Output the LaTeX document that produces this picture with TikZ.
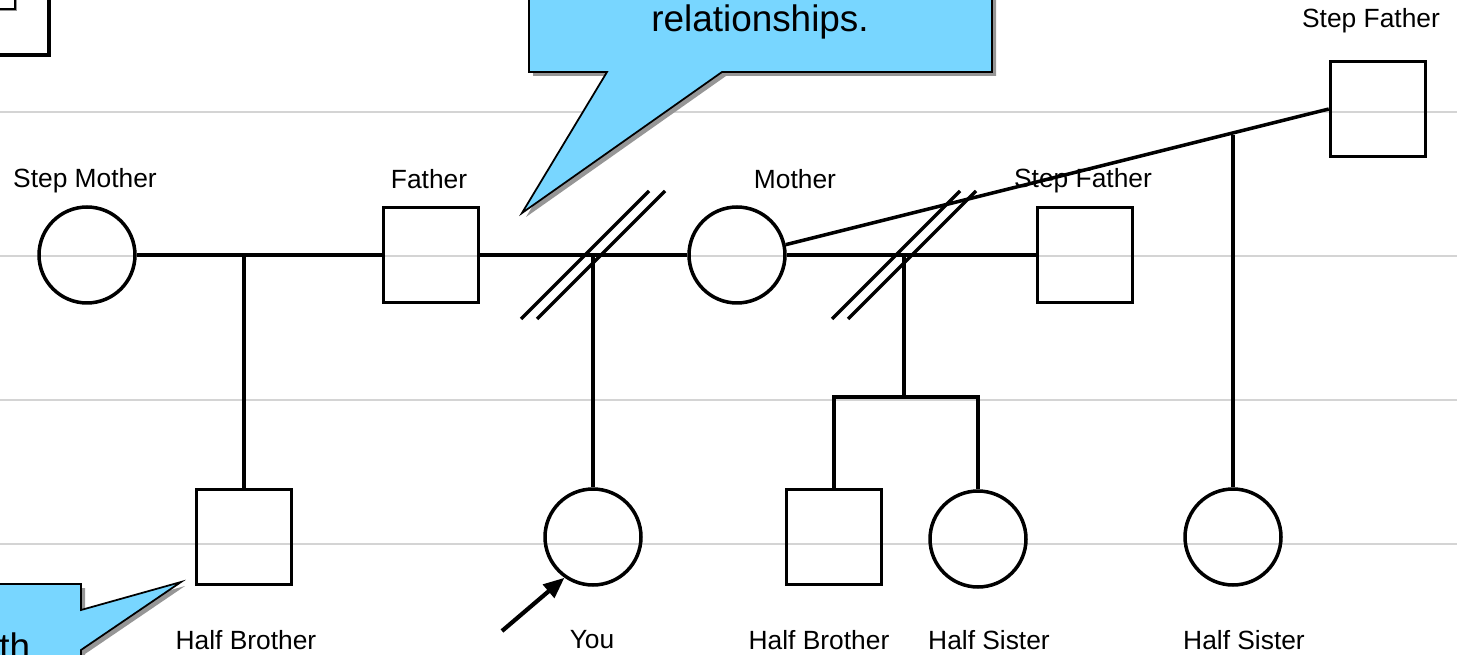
\documentclass[tikz,border=0pt]{standalone}
\usepackage{fontspec}
\setmainfont{Liberation Sans}
\usetikzlibrary{arrows.meta,calc,positioning}
\definecolor{calloutblue}{RGB}{120,214,255}
\definecolor{shadowgray}{RGB}{150,150,150}
\definecolor{guidegray}{RGB}{212,212,212}

\begin{document}
\begin{tikzpicture}[x=0.02cm,y=-0.02cm,
  font=\fontsize{15}{18}\selectfont,
  lbl/.style={inner sep=0pt},
  male/.style={draw,line width=2pt,minimum size=1.9cm,inner sep=0pt},
  female/.style={draw,circle,line width=2pt,minimum size=1.92cm,inner sep=0pt},
  famline/.style={line width=2pt},
  guide/.style={guidegray,line width=1.3pt},
  bubble/.style={fill=calloutblue,draw,line width=1pt},
  bubbleshadow/.style={fill=shadowgray},
  arr/.style={-{Triangle[length=0.42cm,width=0.34cm]},line width=2.4pt}
]
\useasboundingbox (0,0) rectangle (1457,655);
\clip (0,0) rectangle (1457,655);
% --- guide lines ---
\foreach \y in {112,256,400,544}
  \draw[guide] (0,\y) -- (1457,\y);
% --- legend box, cut off at top left ---
\fill[bubbleshadow] (-8,-8) rectangle (51,57);
\draw[line width=2pt,fill=white] (-10,-10) rectangle (49,55);
\fill[bubbleshadow] (-8,-8) rectangle (17,11);
\draw[line width=1pt,fill=white] (-10,-10) rectangle (15,9);
% --- callouts ---
\fill[bubbleshadow,shift={(4,4)}] (529,-20) -- (992,-20) -- (992,72) -- (722,72)
  -- (522,213) -- (607,72) -- (529,72) -- cycle;
\draw[bubble] (529,-20) -- (992,-20) -- (992,72) -- (722,72)
  -- (522,213) -- (607,72) -- (529,72) -- cycle;
\node[lbl,font=\fontsize{21}{25}\selectfont] (note) at (760,22) {relationships.};
\fill[bubbleshadow,shift={(4,4)}] (-20,584) -- (81,584) -- (81,610) -- (181,582)
  -- (81,650) -- (81,680) -- (-20,680) -- cycle;
\draw[bubble] (-20,584) -- (81,584) -- (81,610) -- (181,582)
  -- (81,650) -- (81,680) -- (-20,680) -- cycle;
\node[lbl,font=\fontsize{21}{25}\selectfont,anchor=base west] (notb) at (-1,659) {th};
% --- family members ---
\node[female] (smom)  at (87,255)   {};
\node[male]   (dad)   at (431,255)  {};
\node[female] (mom)   at (737,255)  {};
\node[male]   (sdad)  at (1085,255) {};
\node[male]   (sdadb) at (1378,109) {};
\node[male]   (hbro)  at (244,537)  {};
\node[female] (you)   at (593,537)  {};
\node[male]   (hbrob) at (834,537)  {};
\node[female] (hsis)  at (978,539)  {};
\node[female] (hsisb) at (1233,537) {};
% --- names ---
\node[lbl] (lsmom)  at (85,181)   {Step Mother};
\node[lbl] (ldad)   at (429,179)  {Father};
\node[lbl] (lmom)   at (795,179)  {Mother};
\node[lbl] (lsdad)  at (1083,181) {Step Father};
\node[lbl] (lsdadb) at (1371,21)  {Step Father};
\node[lbl] (lhbro)  at (246,640)  {Half Brother};
\node[lbl] (lyou)   at (592,640)  {You};
\node[lbl] (lhbrob) at (819,640)  {Half Brother};
\node[lbl] (lhsis)  at (989,640)  {Half Sister};
\node[lbl] (lhsisb) at (1244,640) {Half Sister};
% --- unions ---
\coordinate (m1) at (244,255);
\coordinate (m2) at (593,255);
\coordinate (m3) at (904,255);
\coordinate (m4) at (1233,135);
\coordinate (sib) at (904,397);
\draw[famline] (smom) -- (dad);
\draw[famline] (dad) -- (mom);
\draw[famline] (mom) -- (sdad);
\draw[famline] (mom.12) -- (sdadb.west);
\draw[famline] (m1) -- (hbro);
\draw[famline] (m2) -- (you);
\draw[famline] (m3) -- (sib);
\draw[famline] (hbrob) |- (sib) -| (hsis);
\draw[famline] (m4) -- (hsisb);
\foreach \c in {m2,m3}
  \foreach \s in {-8,8}
    \draw[famline] ($(\c)+(\s-64,64)$) -- ($(\c)+(\s+64,-64)$);
% --- pointer to you ---
\coordinate (ptr) at (502,631);
\draw[arr] (ptr) -- (you.235);
\end{tikzpicture}
\end{document}
